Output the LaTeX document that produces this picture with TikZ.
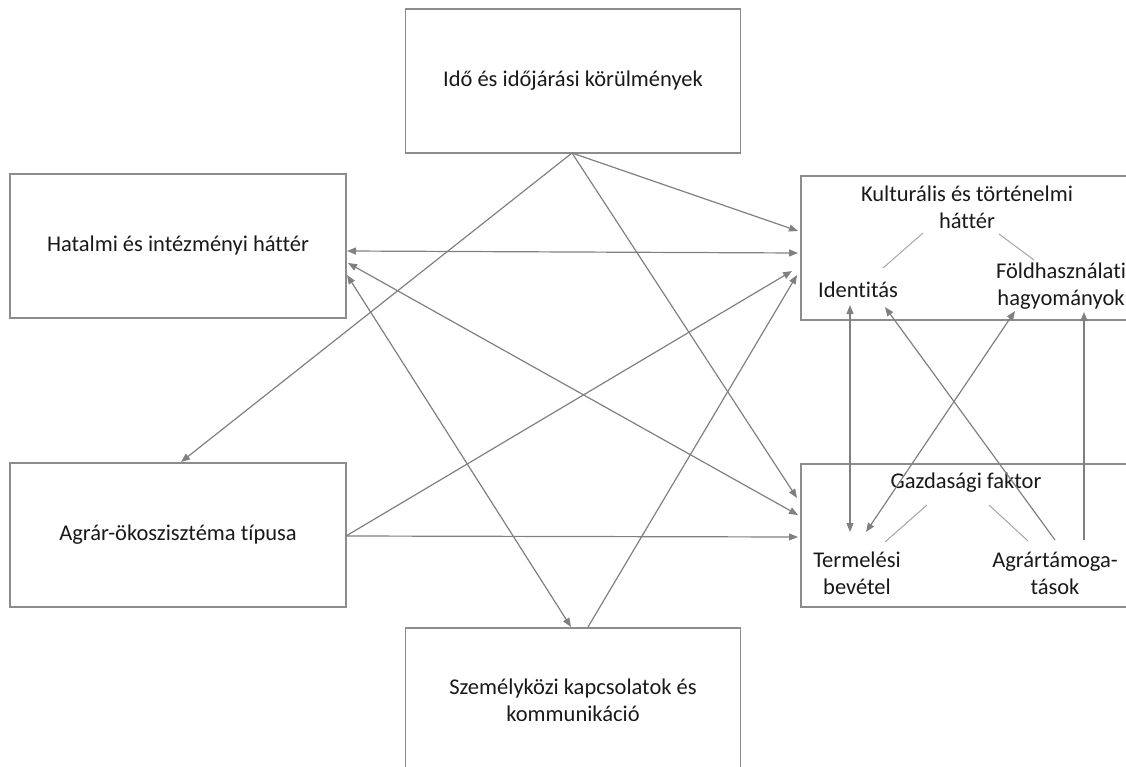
\documentclass[tikz,border=0pt]{standalone}
\usepackage{fontspec}
\setmainfont{Carlito}[Ligatures={NoCommon,NoRare,NoContextual},Contextuals={NoAlternate}]
\usetikzlibrary{arrows.meta}
\definecolor{linegray}{RGB}{128,128,128}
\definecolor{boxgray}{RGB}{140,140,140}
\definecolor{thingray}{RGB}{165,165,165}
\definecolor{txt}{RGB}{25,25,25}
\begin{document}
\begin{tikzpicture}[x=1pt,y=-1pt,
  every node/.style={font=\fontsize{22.5}{27}\selectfont, text=txt, inner sep=0pt},
  bigbox/.style={draw=boxgray, line width=1.2pt, minimum width=335pt, minimum height=144pt, align=center},
  lbl/.style={align=center},
  conn/.style={draw=linegray, line width=1.2pt, -{Triangle[length=9pt,width=7pt]}},
  dconn/.style={draw=linegray, line width=1.2pt, {Triangle[length=9pt,width=7pt]}-{Triangle[length=9pt,width=7pt]}},
  thin/.style={draw=thingray, line width=1pt}]
\useasboundingbox (0,0) rectangle (1126,767);
\clip (0,0) rectangle (1126,767);
% boxes
\node[bigbox] (ido) at (573,81) {Idő és időjárási körülmények};
\node[bigbox, minimum width=336pt] (hat) at (178,246) {Hatalmi és intézményi háttér};
\node[bigbox, minimum width=336pt] (agr) at (178,535) {Agrár-ökoszisztéma típusa};
\node[bigbox] (szem) at (573,700) {Személyközi kapcsolatok és\\kommunikáció};
\node[bigbox, minimum width=340pt] (kult) at (971,248) {};
\node[bigbox, minimum width=340pt, minimum height=143pt] (gazd) at (971,535.5) {};
% inner labels
\node[lbl] (kulttxt) at (967,207) {Kulturális és történelmi\\háttér};
\node[lbl] (ident) at (858,290) {Identitás};
\node[lbl] (fold) at (1061,286) {Földhasználati\\hagyományok};
\node[lbl] (gazdtxt) at (966,483) {Gazdasági faktor};
\node[lbl] (term) at (857,573) {Termelési\\bevétel};
\node[lbl] (agrt) at (1055,573) {Agrártámoga-\\tások};
% connector end points
\coordinate (idoS) at (572,153);
\coordinate (kultA) at (798,231);
\coordinate (kultB) at (798,253);
\coordinate (kultC) at (792,271);
\coordinate (kultD) at (797,275);
\coordinate (gazdA) at (797,498);
\coordinate (gazdB) at (798,515);
\coordinate (gazdC) at (798,537);
\coordinate (agrN) at (181,462);
\coordinate (agrE) at (346,536);
\coordinate (hatA) at (347,251);
\coordinate (hatB) at (348,263);
\coordinate (hatC) at (347,275);
\coordinate (szemA) at (571,627);
\coordinate (szemB) at (588,627);
\coordinate (identS) at (850,305);
\coordinate (identS2) at (885,307);
\coordinate (foldS) at (1015,311);
\coordinate (foldS2) at (1084,312);
\coordinate (termN) at (850,532);
\coordinate (termN2) at (866,532);
\coordinate (agrtN) at (1055,540);
\coordinate (agrtN2) at (1084,540);
% main connectors
\draw[conn] (idoS) -- (kultA);
\draw[conn] (idoS) -- (gazdA);
\draw[conn] (idoS) -- (agrN);
\draw[dconn] (hatA) -- (kultB);
\draw[dconn] (hatB) -- (gazdB);
\draw[dconn] (hatC) -- (szemA);
\draw[conn] (agrE) -- (kultC);
\draw[conn] (agrE) -- (gazdC);
\draw[conn] (szemB) -- (kultD);
% inner connectors
\draw[dconn] (identS) -- (termN);
\draw[dconn] (foldS) -- (termN2);
\draw[conn] (agrtN) -- (identS2);
\draw[conn] (agrtN2) -- (foldS2);
% thin links
\coordinate (k1) at (923,233); \coordinate (k2) at (883,268);
\coordinate (k3) at (999,234); \coordinate (k4) at (1034,260);
\coordinate (g1) at (927,505); \coordinate (g2) at (885,542);
\coordinate (g3) at (989,505); \coordinate (g4) at (1028,541);
\draw[thin] (k1) -- (k2);
\draw[thin] (k3) -- (k4);
\draw[thin] (g1) -- (g2);
\draw[thin] (g3) -- (g4);
\end{tikzpicture}
\end{document}
